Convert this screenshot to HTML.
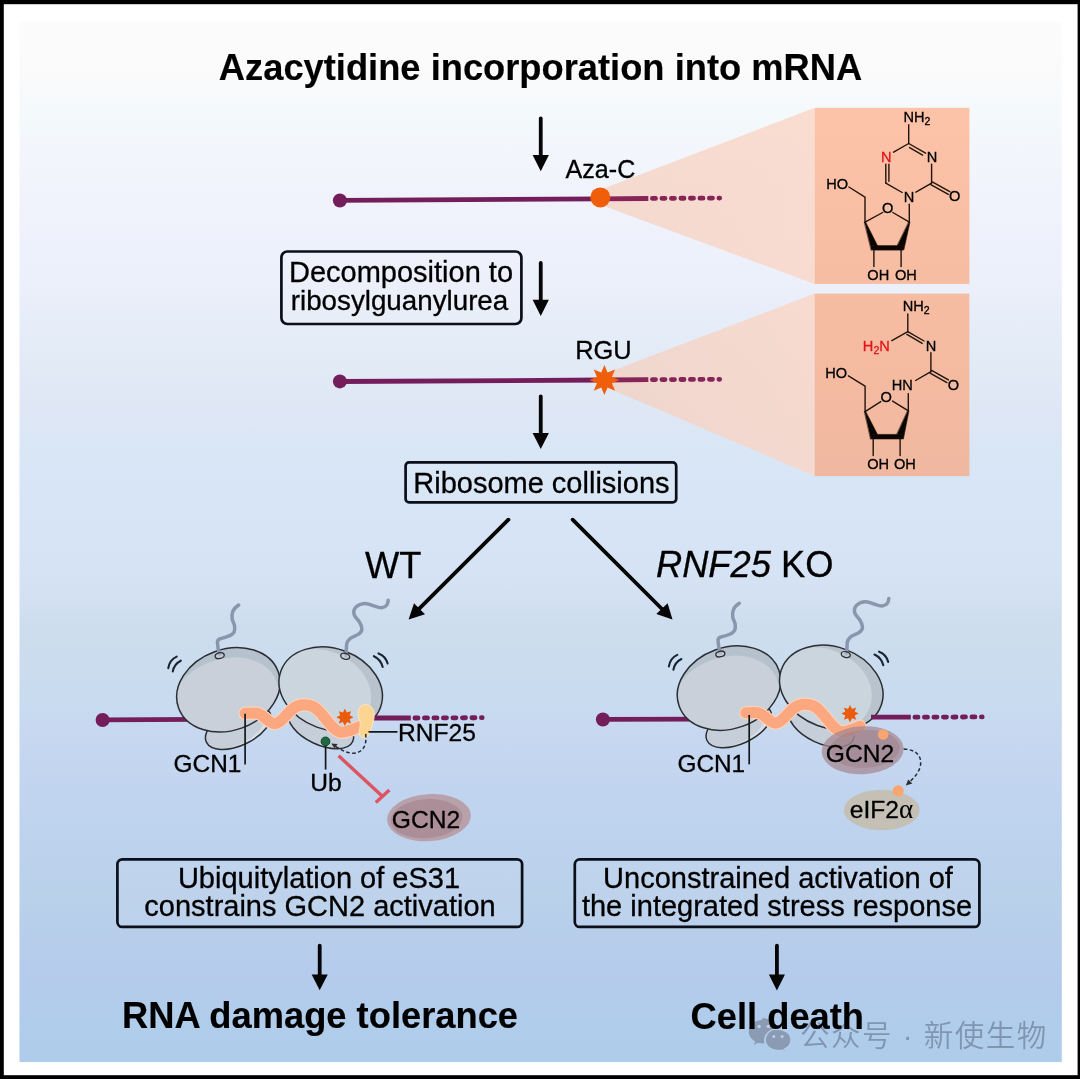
<!DOCTYPE html>
<html lang="en">
<head>
<meta charset="utf-8">
<title>Azacytidine incorporation into mRNA</title>
<style>
html,body{margin:0;padding:0;background:#fff;}
body{width:1080px;height:1079px;overflow:hidden;}
svg{display:block;will-change:transform;}
text{font-family:"Liberation Sans","Noto Sans CJK SC",sans-serif;fill:#000;stroke:#000;stroke-width:.3px;}
.b{font-weight:bold;stroke-width:.15px;}
.t29{font-size:29px;}
.t25{font-size:25.100px;}
.t36{font-size:36.3px;}
.chem{font-size:14.6px;stroke-width:.25px;fill:#1a0d08;stroke:#1a0d08;}
.box{fill:#ffffff;fill-opacity:.06;stroke:#0a0f1a;stroke-width:2.7;}
.arr{stroke:#050505;stroke-width:3.8;fill:none;stroke-linecap:round;}
.ah{fill:#050505;}
.rna{stroke:#741d5b;stroke-width:4.8;fill:none;}
.rnad{stroke:#741d5b;stroke-width:4.8;fill:none;stroke-dasharray:3.1 6.4;stroke-linecap:round;}
.bond{stroke:#111;stroke-width:1.4;fill:none;stroke-linecap:round;}
.rib{fill:#c9d2dc;stroke:#2b2f33;stroke-width:1.5;}
</style>
</head>
<body>
<svg width="1080" height="1079" viewBox="0 0 1080 1079">
<defs>
<linearGradient id="bg" x1="0" y1="0" x2="0" y2="1">
<stop offset="0.0000" stop-color="#fcfcfc"/>
<stop offset="0.0510" stop-color="#fafafb"/>
<stop offset="0.0894" stop-color="#f4f9fb"/>
<stop offset="0.1615" stop-color="#f1f3fc"/>
<stop offset="0.2481" stop-color="#ecf0fb"/>
<stop offset="0.3058" stop-color="#e4ecf7"/>
<stop offset="0.3731" stop-color="#dfe7f5"/>
<stop offset="0.4163" stop-color="#d8e6f6"/>
<stop offset="0.4981" stop-color="#d6e4f5"/>
<stop offset="0.5317" stop-color="#d6e3f4"/>
<stop offset="0.5798" stop-color="#ceddee"/>
<stop offset="0.6423" stop-color="#c9dcef"/>
<stop offset="0.7048" stop-color="#c5d6f0"/>
<stop offset="0.7721" stop-color="#bed3ee"/>
<stop offset="0.8394" stop-color="#bad1ea"/>
<stop offset="0.9163" stop-color="#b5cbec"/>
<stop offset="0.9788" stop-color="#afcdeb"/>
<stop offset="1.0000" stop-color="#afcdeb"/>
</linearGradient>
<linearGradient id="p1" x1="0" y1="0" x2="0" y2="1"><stop offset="0" stop-color="#fcc3a8"/><stop offset="1" stop-color="#f7bda2"/></linearGradient>
<linearGradient id="p2" x1="0" y1="0" x2="0" y2="1"><stop offset="0" stop-color="#f7bda2"/><stop offset="1" stop-color="#f0b8a0"/></linearGradient>
<linearGradient id="fan" x1="0" y1="0" x2="1" y2="0">
<stop offset="0" stop-color="#f6cdb9" stop-opacity=".66"/>
<stop offset="1" stop-color="#fbd6c6" stop-opacity=".8"/>
</linearGradient>
</defs>

<!-- frame -->
<rect x="0" y="0" width="1080" height="1079" fill="#000"/>
<rect x="3.8" y="4.2" width="1073.8" height="1071" fill="#fff"/>
<rect x="19.5" y="22" width="1042.3" height="1040" fill="url(#bg)"/>

<!-- title -->
<text class="b t36" x="540.5" y="79.900" text-anchor="middle">Azacytidine incorporation into mRNA</text>

<!-- arrows -->
<g id="arrows">
<path class="arr" d="M540.75 118.500V157"/><path class="ah" d="M532.600 154.900h16.300l-8.150 16.300z"/>
<path class="arr" d="M540.75 262.900V302"/><path class="ah" d="M532.600 299.700h16.300l-8.150 16.200z"/>
<path class="arr" d="M540.75 396.400V435"/><path class="ah" d="M532.600 432.900h16.300l-8.150 16.200z"/>
<path class="arr" d="M319.700 945.600V977"/><path class="ah" d="M311.650 974.600h16.100l-8.050 15.700z"/>
<path class="arr" d="M776.900 945.600V977"/><path class="ah" d="M768.850 974.600h16.100l-8.050 15.900z"/>
<path class="arr" d="M508.400 519.700L418 609.800"/><path class="ah" d="M408.600 619.600L414 603.200L425 614.300z"/>
<path class="arr" d="M572.600 519.700L663 610"/><path class="ah" d="M672.500 619.600L667.600 603.200L656.300 614.100z"/>
</g>

<!-- fans + panels -->
<path d="M600.300 189.800L814.600 107.800V283.900L600.300 204.800Z" fill="url(#fan)"/>
<path d="M604.400 373.700L814.600 293.600V476.100L604.400 386.500Z" fill="url(#fan)"/>
<rect x="814.600" y="107.800" width="154.800" height="176.100" fill="url(#p1)"/>
<rect x="814.600" y="293.600" width="154.800" height="182.500" fill="url(#p2)"/>

<!-- mRNA 1 -->
<path class="rna" d="M340 200.400L600 198.900"/><path class="rna" d="M600 198.900L648.300 198.500" style="stroke:#872558"/><path class="rnad" d="M652.400 198.400L719.700 198.100" style="stroke:#872558"/>
<circle cx="339.9" cy="200.5" r="7" fill="#741d5b"/>
<circle cx="600.3" cy="197.4" r="10" fill="#f05e0a"/>
<text class="t25" x="600.400" y="178.300" text-anchor="middle">Aza-C</text>

<!-- mRNA 2 -->
<path class="rna" d="M340 381.500L604 380"/><path class="rna" d="M604 380L648.300 379.700" style="stroke:#872558"/><path class="rnad" d="M652.400 379.650L719.700 379.300" style="stroke:#872558"/>
<circle cx="339.9" cy="381.4" r="7" fill="#741d5b"/>
<path transform="translate(604.400 380.100) scale(1.015)" fill="#f05e0a" d="M0.0 -14.8L3.1 -7.4L10.5 -10.5L7.4 -3.1L14.8 0.0L7.4 3.1L10.5 10.5L3.1 7.4L0.0 14.8L-3.1 7.4L-10.5 10.5L-7.4 3.1L-14.8 0.0L-7.4 -3.1L-10.5 -10.5L-3.1 -7.4Z"/>
<text class="t25" x="603.500" y="358.600" text-anchor="middle" style="font-size:25.400px">RGU</text>

<!-- boxes -->
<rect class="box" x="281.4" y="251.5" width="240" height="72.5" rx="6"/>
<text class="t29" x="401" y="281.8" text-anchor="middle">Decomposition to</text>
<text class="t29" x="399.500" y="310.400" text-anchor="middle" style="font-size:27.750px">ribosylguanylurea</text>

<rect class="box" x="405.6" y="462.4" width="270.6" height="40" rx="3.5"/>
<text class="t29" x="541.4" y="492.5" text-anchor="middle">Ribosome collisions</text>

<text class="t36" x="393.2" y="578" text-anchor="middle">WT</text>
<text class="t36" x="744.7" y="577" text-anchor="middle"><tspan font-style="italic">RNF25</tspan> KO</text>

<rect class="box" x="117.400" y="859.300" width="404.700" height="67.600" rx="5"/>
<text class="t29" x="319" y="888" text-anchor="middle">Ubiquitylation of eS31</text>
<text class="t29" x="320" y="915.800" text-anchor="middle">constrains GCN2 activation</text>

<rect class="box" x="574.800" y="859.400" width="404.600" height="67.500" rx="5"/>
<text class="t29" x="778" y="888" text-anchor="middle">Unconstrained activation of</text>
<text class="t29" x="777" y="915.800" text-anchor="middle">the integrated stress response</text>

<g id="wm" fill="#8a9bb3">
<path d="M762.2 1017.9c7.4 0 13.4 5.3 13.4 11.9c0 .5 0 1-.1 1.500c-6.300 .4-11.300 4.400-11.300 9.400c0 .9 .2 1.700 .5 2.500c-.8 .1-1.700 .2-2.500 .2c-1.500 0-2.900-.2-4.200-.6l-3.900 2.300l1.100-3.700c-3.900-2.100-6.400-5.600-6.400-9.600c0-6.600 6-11.900 13.400-11.900z"/>
<ellipse cx="778.1" cy="1039.9" rx="12.2" ry="10"/>
<path d="M783 1047.500l3 3.600l-6.500-2.200z"/>
<g fill="#b9d0ea"><circle cx="759.1" cy="1026.5" r="1.700"/><circle cx="768.3" cy="1026.5" r="1.700"/><circle cx="773.8" cy="1036.5" r="1.500"/><circle cx="782.1" cy="1036.5" r="1.500"/></g>
</g>
<ellipse cx="778.1" cy="1039.9" rx="13.300" ry="11.100" fill="none" stroke="#b3cdea" stroke-width="1.200"/>
<text x="800" y="1046" style="font-size:29.5px;fill:#8095b2;stroke:none;letter-spacing:1.5px;font-weight:350" id="wmt">公众号 · 新使生物</text>
<text class="b t36" x="320" y="1027.500" text-anchor="middle">RNA damage tolerance</text>
<text class="b t36" x="777.300" y="1029" text-anchor="middle">Cell death</text>

<!--MOLECULES-->
<g id="mol1" class="bond" style="stroke:#22130c">
<path d="M908.7 124.8V143.5"/>
<path d="M908.7 143.5L893.6 152.2"/>
<path d="M908.7 143.5L925.6 153.2"/>
<path d="M909.6 147.6L922.6 155.1"/>
<path d="M931.6 164.1V183.1"/>
<path d="M931.6 183.1L915.9 192.2"/>
<path d="M902.2 192.5L885.8 183.1"/>
<path d="M885.8 183.1V164.1"/>
<path d="M888.9 181.2V164.1"/>
<path d="M932.3 181.9L949.8 191.6"/>
<path d="M930.8 184.6L948.3 194.3"/>
<path d="M909.3 204.2V222.2"/>
<path d="M909.4 222.2L892.8 212.5"/>
<path d="M882.7 212.5L865 222.2"/>
<path d="M865 222.2V197.2L848.9 187"/>
<path d="M873.9 250V266.6"/>
<path d="M901.1 250V266.6"/>
<path d="M864.5 222H865.6L877.6 245.8L871.4 250.1Z" fill="#0a0503" stroke-width=".6"/>
<path d="M908.9 222H910L903.8 250.1L897.4 245.8Z" fill="#0a0503" stroke-width=".6"/>
<path d="M872.2 245.6H903V250.1H872.2Z" fill="#0a0503" stroke-width=".6"/>
</g>
<g id="mol1t" class="chem" text-anchor="middle">
<text x="903.5" y="121.800" text-anchor="start">NH<tspan font-size="10.5" dy="3.2">2</tspan></text>
<text x="886.2" y="161.9" style="fill:#e3121b;stroke:#e3121b">N</text>
<text x="932" y="161.9">N</text>
<text x="909" y="201.5">N</text>
<text x="954.6" y="201.2">O</text>
<text x="887.8" y="213.1">O</text>
<text x="837.2" y="189">HO</text>
<text x="878.3" y="279.6">OH</text>
<text x="905.9" y="279.6">OH</text>
</g>

<g id="mol2" class="bond" style="stroke:#22130c">
<path d="M907.8 314V331.7"/>
<path d="M907.8 331.7L891.8 340.6"/>
<path d="M907.8 331.7L924 341"/>
<path d="M906.9 334.4L922.2 343.4"/>
<path d="M930.9 352.8V371.7"/>
<path d="M930.9 371.7L915.6 380.5"/>
<path d="M931.6 370.4L948.4 379.9"/>
<path d="M930.1 373.1L946.9 382.6"/>
<path d="M908.3 393.6V410.8"/>
<path d="M908.4 410.8L892.6 401.1"/>
<path d="M880.8 401.6L865.1 411.7"/>
<path d="M865.1 411.7V386.1L848.4 375.8"/>
<path d="M873.2 439V455.6"/>
<path d="M900.1 439V455.6"/>
<path d="M864.6 411.5H865.7L877.5 434.4L870.8 439Z" fill="#0a0503" stroke-width=".6"/>
<path d="M907.9 410.6H909L903.4 439L897 434.4Z" fill="#0a0503" stroke-width=".6"/>
<path d="M871.4 434.4H902.8V439H871.4Z" fill="#0a0503" stroke-width=".6"/>
</g>
<g id="mol2t" class="chem" text-anchor="middle">
<text x="902.7" y="310.8" text-anchor="start">NH<tspan font-size="10.5" dy="3.2">2</tspan></text>
<text x="889.8" y="350.8" text-anchor="end" style="fill:#e3121b;stroke:#e3121b">H<tspan font-size="10.5" dy="3.2">2</tspan><tspan dy="-3.2">N</tspan></text>
<text x="931" y="350.8">N</text>
<text x="953.4" y="390.3">O</text>
<text x="902.3" y="390.3">HN</text>
<text x="886.2" y="401.5">O</text>
<text x="836.2" y="377.8">HO</text>
<text x="878.2" y="469.1">OH</text>
<text x="904.9" y="469.1">OH</text>
</g>
<!--/MOLECULES-->
<!--RIBOSOMES-->
<defs>
<clipPath id="cl1"><ellipse cx="0" cy="0" rx="53" ry="40.5"/></clipPath>
<clipPath id="cl2"><ellipse cx="0" cy="0" rx="35" ry="18"/></clipPath>
<g id="riboL">
  <!-- small subunit (behind) -->
  <g transform="translate(238.1 727.4) rotate(-25)">
    <ellipse cx="0" cy="0" rx="35" ry="18" fill="#d8dfe7"/>
    <ellipse cx="-4.500" cy="-2" rx="35" ry="18" fill="#c6cfd9" clip-path="url(#cl2)"/>
    <ellipse cx="0" cy="0" rx="35" ry="18" fill="none" stroke="#2b2f33" stroke-width="1.5"/>
  </g>
  <!-- large subunit -->
  <g transform="translate(228.4 689.8) rotate(-20)">
    <ellipse cx="0" cy="0" rx="53" ry="40.5" fill="#b5c1cd"/>
    <ellipse cx="-7" cy="8.5" rx="55" ry="41" fill="#c9d0da" clip-path="url(#cl1)"/>
    <ellipse cx="0" cy="0" rx="53" ry="40.5" fill="none" stroke="#2b2f33" stroke-width="1.5"/>
  </g>
</g>
<g id="riboR">
  <ellipse class="rib" cx="321" cy="726.7" rx="35" ry="18" transform="rotate(25 321 726.7)" style="fill:#c6cfd9"/>
  <g transform="translate(330.7 689.1) rotate(20)">
    <ellipse cx="0" cy="0" rx="53" ry="40.5" fill="#b8c3cd"/>
    <ellipse cx="-8.500" cy="5.500" rx="51.500" ry="41" fill="#cbd5de" clip-path="url(#cl1)"/>
    <ellipse cx="0" cy="0" rx="53" ry="40.5" fill="none" stroke="#2b2f33" stroke-width="1.5"/>
  </g>
</g>
<g id="pair">
  <!-- mRNA left part -->
  <use href="#riboL"/>
  <use href="#riboR"/>
  <!-- nascent chains -->
  <g fill="none" stroke="#8a96ae" stroke-width="3.5" stroke-linecap="round" stroke-linejoin="round">
    <path d="M219.7 654.3C218.6 651.5 217.6 647 217.4 642.2C217.3 639.6 219 638.9 221.1 638.5C224 637.9 226 637.3 228.5 636.2C231 635.1 233.2 633.9 234.1 632C235 630 234.9 628 234.5 625.6C234 623 232.6 621.5 232.2 619.1C231.8 616.5 231.9 614 232.7 611.7C233.8 608.8 236 606.8 238.7 605"/>
    <path d="M345.6 655.5C346.6 652 346.3 648 346.6 644.6C346.9 641.8 348.6 639.6 350.7 638.1C353 636.4 355.8 635.9 358.1 634.4C360.2 633.1 361.9 631.4 361.9 628.9C361.9 626 360.6 623.8 359.1 621.5C357.4 618.9 354.6 617.2 354 614.1C353.4 611.2 354.2 608.6 356.3 606.7C358.6 604.6 361.6 603.6 364.6 603.4C368.3 603.2 371.4 605 374.8 606.2C377.2 607.1 379.8 608.2 382.2 607.6C384.5 607 386 606.3 386.9 604.8C387.8 603.3 388.1 601.8 388.2 600.2"/>
  </g>
  <ellipse cx="219.7" cy="655.7" rx="4.6" ry="2.8" transform="rotate(-12 219.7 655.7)" fill="#c9d0da" fill-opacity=".55" stroke="#2b2f33" stroke-width="1.3"/>
  <ellipse cx="345.2" cy="656.3" rx="4.6" ry="2.9" transform="rotate(15 345.2 656.3)" fill="#c9d0da" fill-opacity=".55" stroke="#2b2f33" stroke-width="1.3"/>
  <!-- motion marks -->
  <g fill="none" stroke="#1a2431" stroke-width="2.1" stroke-linecap="round">
    <path d="M176.7 656.6Q169.5 660 168.3 668.1"/>
    <path d="M180.8 660.7Q174.2 664 172.8 671.4"/>
    <path d="M378.5 653.4Q385.8 656.2 387.6 663.6"/>
    <path d="M373.9 656.2Q380.8 659.5 382.7 666.9"/>
  </g>
</g>
<path id="band" d="M245 713.3C249 713.3 253 712.8 256.8 713.3C260.5 713.8 263.3 716.6 266.2 718.8C268.8 720.8 271.5 723.9 274.9 723.6C278.5 723.3 281 720.6 283.5 718.1C286.8 714.9 289.5 711.3 293 708.6C296.3 706.1 300 704.7 304 704.7C308.3 704.7 312 705.6 315 707.8C318.8 710.5 321.5 714 324.4 717.3C327.2 720.5 329.4 723.9 332.3 726.7C334.6 729 337 731.6 340.2 732.2C343.4 732.8 346.5 731.5 349.6 730.6C352.8 729.6 356 728 359.1 726.7"/>
<path id="star8" d="M0.0 -8.6L2.0 -4.7L6.1 -6.1L4.7 -2.0L8.6 0.0L4.7 2.0L6.1 6.1L2.0 4.7L0.0 8.6L-2.0 4.7L-6.1 6.1L-4.7 2.0L-8.6 0.0L-4.7 -2.0L-6.1 -6.1L-2.0 -4.7Z"/>
</defs>

<!-- LEFT complex (WT) -->
<g id="wt">
  <path class="rna" d="M102.600 719.900L200 719.400" style="stroke-width:4.800"/>
  <circle cx="102.600" cy="720" r="7" fill="#741d5b"/>
  <use href="#pair"/>
  <path class="rna" d="M373 718H410.800" style="stroke-width:4.800"/><path class="rnad" d="M414.900 718L482.200 717.700" style="stroke-width:4.800"/>
  <use href="#band" fill="none" stroke="#fdd3bd" stroke-width="13.2" stroke-linecap="round"/>
  <use href="#band" fill="none" stroke="#fba780" stroke-width="11" stroke-linecap="round"/>
  <use href="#star8" transform="translate(344.9 717.3)" fill="#ea5b0c"/>
  <path d="M365.6 704.6C361 704.6 357.9 708.5 358.1 713.5C358.3 717.5 360.2 720.5 360.3 724C360.4 728 358.6 731 359.3 734.2C360 737.2 363 738.3 365.5 737.6C368.5 736.8 369.6 733.5 370.6 730C372 725 374.3 720.5 374.2 714.5C374.1 708.5 370.6 704.6 365.6 704.6Z" fill="#fcd593" stroke="#fde6c0" stroke-width="1"/>
  <!-- pointers -->
  <path d="M245.1 713.8V764.5M368.5 731.9H397.5M325.6 744V769.6" stroke="#15181c" stroke-width="1.7" fill="none"/>
  <circle cx="325.5" cy="741.4" r="4.4" fill="#1f6a43" stroke="#14492d" stroke-width="1"/>
  <path d="M365.7 733.8C366.5 741 365.5 746.5 361.5 750.3C356.5 754.6 348.5 753.6 342.5 750.3C339 748.4 336.3 746.8 334.5 745.6" fill="none" stroke="#222b38" stroke-width="1.500" stroke-dasharray="3.6 2.4"/>
  <path d="M331.2 743.6L337.6 743.9L334.6 748.3Z" fill="#2b2f33"/>
  <path d="M338.6 755.8L382.6 796.5" stroke="#dc5560" stroke-width="3.4" fill="none"/>
  <path d="M375.8 802.6L389.4 789.9" stroke="#dc5560" stroke-width="3.4" fill="none"/>
  <g transform="rotate(-4 429 817.6)">
    <ellipse cx="429" cy="817.6" rx="42" ry="23.5" fill="#b8a1ab"/>
    <ellipse cx="426.500" cy="818.500" rx="36" ry="19.500" fill="#a88b94" fill-opacity=".85"/>
  </g>
  <text class="t25" x="207.500" y="771.800" text-anchor="middle" style="font-size:24.400px">GCN1</text>
  <text class="t25" x="437" y="740.6" text-anchor="middle" style="font-size:24.6px">RNF25</text>
  <text class="t25" x="326" y="791.2" text-anchor="middle" style="font-size:24.6px">Ub</text>
  <text class="t25" x="426" y="828.4" text-anchor="middle" style="font-size:24.6px">GCN2</text>
</g>

<!-- RIGHT complex (RNF25 KO) -->
<g id="ko">
  <path class="rna" d="M602.900 719.300L700 719.100" style="stroke-width:4.800"/>
  <circle cx="602.900" cy="719.450" r="7" fill="#741d5b"/>
  <use href="#pair" transform="translate(500.600 -1.700)"/>
  <g transform="translate(500.800 -0.500)">
    <use href="#band" fill="none" stroke="#fdd3bd" stroke-width="13.2" stroke-linecap="round"/>
    <use href="#band" fill="none" stroke="#fba780" stroke-width="11" stroke-linecap="round"/>
  </g>
  <path class="rna" d="M871 717.200H910.800" style="stroke-width:4.800"/><path class="rnad" d="M914.900 717.200L982.200 716.900" style="stroke-width:4.800"/>
  <use href="#star8" transform="translate(850 713.6)" fill="#ea5b0c"/>
  <path d="M749.200 715V764.400" stroke="#15181c" stroke-width="1.7" fill="none"/>
  <g transform="rotate(-3 862.7 750.2)">
    <ellipse cx="862.7" cy="750.2" rx="41" ry="24" fill="#a58790" fill-opacity=".72"/>
    <ellipse cx="865" cy="749" rx="35" ry="19" fill="#9b7c86" fill-opacity=".45"/>
  </g>
  <circle cx="883.2" cy="734.5" r="5.3" fill="#f9a56f"/>
  <ellipse cx="881.700" cy="810" rx="37.900" ry="20.200" fill="#c5c0b6"/>
  <circle cx="898.200" cy="790.800" r="5.500" fill="#f9a56f"/>
  <path d="M903.7 749C915 749.5 922 755 920.5 765C919.5 772 914 778 909 782.5" fill="none" stroke="#222b38" stroke-width="1.500" stroke-dasharray="3.6 2.4"/>
  <path d="M905.8 785.6L908.2 779.4L912.3 783.6Z" fill="#2b2f33"/>
  <text class="t25" x="711.300" y="772" text-anchor="middle" style="font-size:24.400px">GCN1</text>
  <text class="t25" x="860" y="762.2" text-anchor="middle" style="font-size:24.6px">GCN2</text>
  <text class="t25" x="881.5" y="817.6" text-anchor="middle" style="font-size:24.6px">eIF2<tspan style="font-family:'Liberation Serif','DejaVu Serif',serif;font-size:27px;stroke-width:.1px">α</tspan></text>
</g>
<!--/RIBOSOMES-->

</svg>
</body>
</html>
